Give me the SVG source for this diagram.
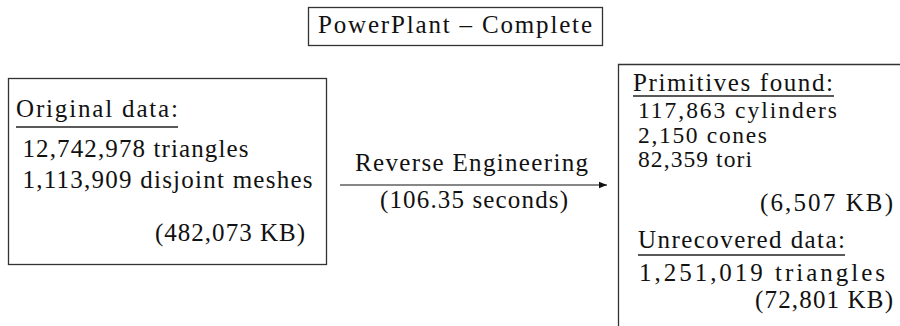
<svg xmlns="http://www.w3.org/2000/svg" width="900" height="326" viewBox="0 0 900 326">
<defs>
<style>
text{font-family:"Liberation Serif","DejaVu Serif","Times New Roman",serif;font-size:25px;fill:#111;}
.tight{font-size:23.5px;}
.box{fill:#fff;stroke:#333;stroke-width:1.3;}
.ul{stroke:#222;stroke-width:1.3;}
.conn{stroke:#111;stroke-width:1.2;fill:none;}
</style>
<marker id="arr" viewBox="0 0 10 10" refX="10" refY="5" markerWidth="8" markerHeight="8" markerUnits="userSpaceOnUse" orient="auto">
<path d="M0,1 L10,5 L0,9 Z" fill="#111"/>
</marker>
</defs>
<rect width="900" height="326" fill="#fff"/>
<g id="title">
<rect class="box" x="308.5" y="7.5" width="294" height="38"/>
<text x="318" y="33" textLength="274" lengthAdjust="spacing">PowerPlant – Complete</text>
</g>
<g id="original">
<rect class="box" x="8.5" y="78.5" width="318" height="186"/>
<text x="16" y="117" textLength="162" lengthAdjust="spacing">Original data:</text>
<line class="ul" x1="16" y1="127" x2="178" y2="127"/>
<text x="22.5" y="157" textLength="226" lengthAdjust="spacing">12,742,978 triangles</text>
<text x="22.5" y="188" textLength="290" lengthAdjust="spacing">1,113,909 disjoint meshes</text>
<text x="155" y="241" textLength="150" lengthAdjust="spacing">(482,073 KB)</text>
</g>
<g id="connectors">
<line class="conn" x1="340" y1="185" x2="607" y2="185" marker-end="url(#arr)"/>
<text x="355" y="171" textLength="233" lengthAdjust="spacing">Reverse Engineering</text>
<text x="380" y="208" textLength="188" lengthAdjust="spacing">(106.35 seconds)</text>
</g>
<g id="result">
<path class="box" d="M900,64.5 H618.5 V330"/>
<text x="633" y="91" textLength="200" lengthAdjust="spacing">Primitives found:</text>
<line class="ul" x1="633" y1="96" x2="834" y2="96"/>
<text class="tight" x="638" y="118" textLength="199" lengthAdjust="spacing">117,863 cylinders</text>
<text class="tight" x="638" y="143" textLength="129" lengthAdjust="spacing">2,150 cones</text>
<text class="tight" x="638" y="167" textLength="114" lengthAdjust="spacing">82,359 tori</text>
<text x="760" y="211" textLength="133" lengthAdjust="spacing">(6,507 KB)</text>
<text x="638" y="248" textLength="207" lengthAdjust="spacing">Unrecovered data:</text>
<line class="ul" x1="638" y1="255" x2="845" y2="255"/>
<text x="639" y="281" textLength="246" lengthAdjust="spacing">1,251,019 triangles</text>
<text x="755" y="308" textLength="138" lengthAdjust="spacing">(72,801 KB)</text>
</g>
</svg>
